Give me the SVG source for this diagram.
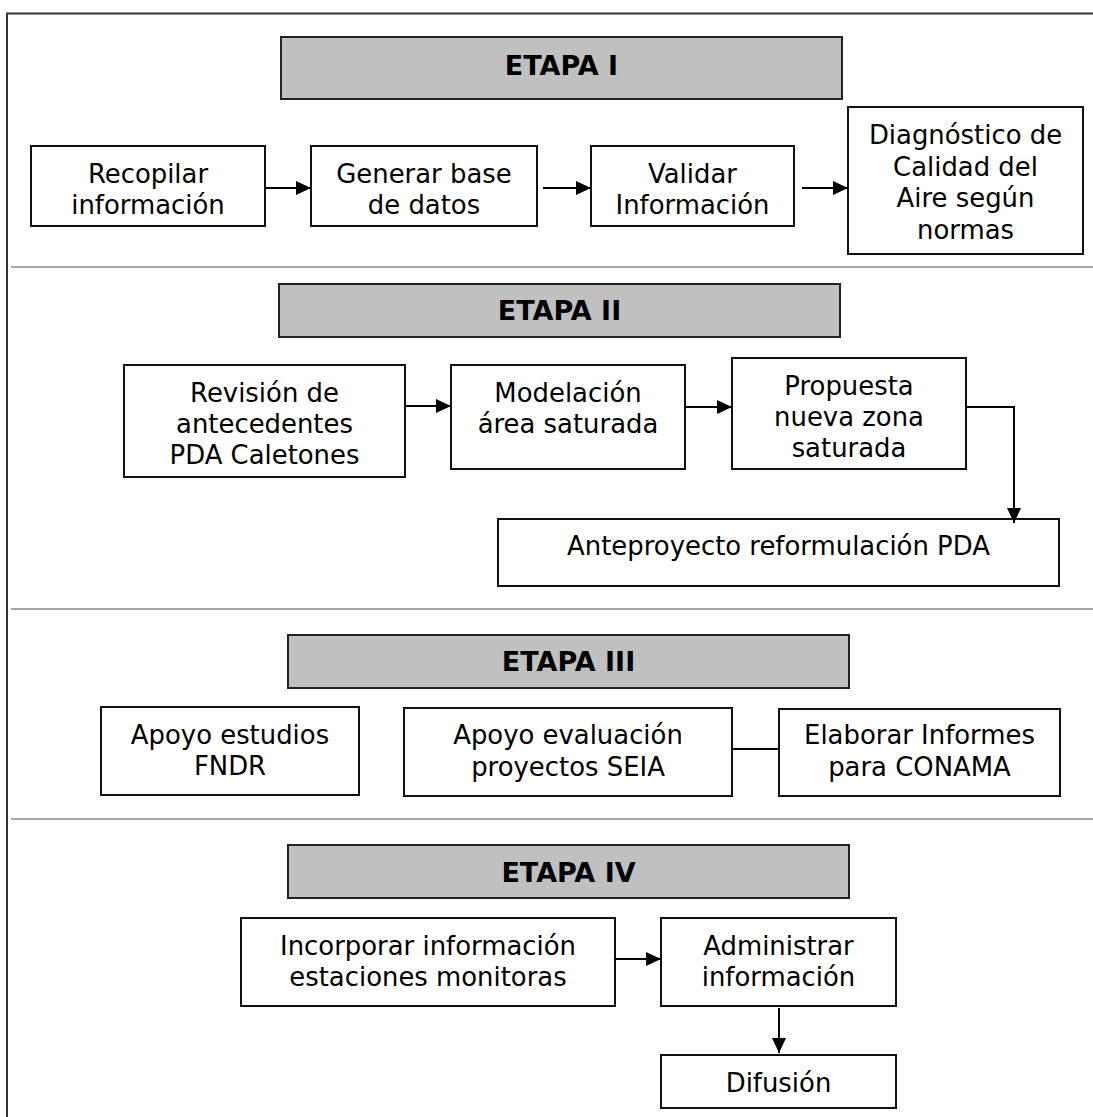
<svg xmlns="http://www.w3.org/2000/svg" width="1093" height="1117" viewBox="0 0 1093 1117">
<style>
.box{fill:#fff;stroke:#111;stroke-width:2}
.hdr{fill:#c0c0c0;stroke:#222;stroke-width:2}
.t{font-family:"DejaVu Sans",Verdana,sans-serif;font-size:25.9px;text-anchor:middle;fill:#000}
.h{font-weight:bold;font-size:27px}
.sep{stroke:#a6a6a6;stroke-width:2}
.frame{fill:none;stroke:#333;stroke-width:2}
.conn{fill:none;stroke:#000;stroke-width:2}
.arr{marker-end:url(#ah)}
</style>
<defs>
<marker id="ah" viewBox="0 0 15 14" refX="15" refY="7" markerUnits="userSpaceOnUse" markerWidth="15" markerHeight="14" orient="auto">
<path d="M0,0 L15,7 L0,14 z" fill="#000"/>
</marker>
</defs>
<rect x="0" y="0" width="1093" height="1117" fill="#fff"/>
<path class="frame" d="M7,1117 V13.5 H1093"/>
<g id="separators">
<line class="sep" x1="11" y1="267" x2="1093" y2="267"/>
<line class="sep" x1="11" y1="609" x2="1093" y2="609"/>
<line class="sep" x1="11" y1="819" x2="1093" y2="819"/>
</g>
<g id="etapa1"><rect class="hdr" x="281" y="37" width="561" height="62"/><text class="t h" x="561.5" y="75">ETAPA I</text></g>
<g id="recopilar"><rect class="box" x="31" y="146" width="234" height="80"/><text class="t" x="148" y="183">Recopilar</text><text class="t" x="148" y="214">información</text></g>
<g id="generar"><rect class="box" x="311" y="146" width="226" height="80"/><text class="t" x="424" y="183">Generar base</text><text class="t" x="424" y="214">de datos</text></g>
<g id="validar"><rect class="box" x="591" y="146" width="203" height="80"/><text class="t" x="692.5" y="183">Validar</text><text class="t" x="692.5" y="214">Información</text></g>
<g id="diagnostico"><rect class="box" x="848" y="107" width="235" height="147"/><text class="t" x="965.5" y="144">Diagnóstico de</text><text class="t" x="965.5" y="175.5">Calidad del</text><text class="t" x="965.5" y="207">Aire según</text><text class="t" x="965.5" y="238.5">normas</text></g>
<g id="etapa2"><rect class="hdr" x="279" y="284" width="561" height="53"/><text class="t h" x="559.5" y="320">ETAPA II</text></g>
<g id="revision"><rect class="box" x="124" y="365" width="281" height="112"/><text class="t" x="264.5" y="401.5">Revisión de</text><text class="t" x="264.5" y="432.5">antecedentes</text><text class="t" x="264.5" y="464">PDA Caletones</text></g>
<g id="modelacion"><rect class="box" x="451" y="365" width="234" height="104"/><text class="t" x="568" y="401.5">Modelación</text><text class="t" x="568" y="432.5">área saturada</text></g>
<g id="propuesta"><rect class="box" x="732" y="358" width="234" height="111"/><text class="t" x="849" y="395">Propuesta</text><text class="t" x="849" y="426">nueva zona</text><text class="t" x="849" y="457.3">saturada</text></g>
<g id="anteproyecto"><rect class="box" x="498" y="519" width="561" height="67"/><text class="t" x="778.5" y="555">Anteproyecto reformulación PDA</text></g>
<g id="etapa3"><rect class="hdr" x="288" y="635" width="561" height="53"/><text class="t h" x="568.5" y="671">ETAPA III</text></g>
<g id="fndr"><rect class="box" x="101" y="707" width="258" height="88"/><text class="t" x="230" y="744">Apoyo estudios</text><text class="t" x="230" y="775">FNDR</text></g>
<g id="seia"><rect class="box" x="404" y="708" width="328" height="88"/><text class="t" x="568" y="744">Apoyo evaluación</text><text class="t" x="568" y="775.5">proyectos SEIA</text></g>
<g id="conama"><rect class="box" x="779" y="709" width="281" height="87"/><text class="t" x="919.5" y="744">Elaborar Informes</text><text class="t" x="919.5" y="775.5">para CONAMA</text></g>
<g id="etapa4"><rect class="hdr" x="288" y="845" width="561" height="53"/><text class="t h" x="568.5" y="881.5">ETAPA IV</text></g>
<g id="incorporar"><rect class="box" x="241" y="918" width="374" height="88"/><text class="t" x="428" y="955">Incorporar información</text><text class="t" x="428" y="986">estaciones monitoras</text></g>
<g id="administrar"><rect class="box" x="661" y="918" width="235" height="88"/><text class="t" x="778.5" y="955">Administrar</text><text class="t" x="778.5" y="986">información</text></g>
<g id="difusion"><rect class="box" x="661" y="1055" width="235" height="53"/><text class="t" x="778.5" y="1091.5">Difusión</text></g>
<g id="connectors">
<line class="conn arr" x1="265" y1="188" x2="311" y2="188"/>
<line class="conn arr" x1="543" y1="188" x2="591" y2="188"/>
<line class="conn arr" x1="802" y1="188" x2="848" y2="188"/>
<line class="conn arr" x1="405" y1="406" x2="451" y2="406"/>
<line class="conn arr" x1="685" y1="407" x2="732" y2="407"/>
<path class="conn arr" d="M966,407 H1014 V523"/>
<line class="conn" x1="732" y1="749" x2="779" y2="749"/>
<line class="conn arr" x1="615" y1="959" x2="661" y2="959"/>
<line class="conn arr" x1="779" y1="1008" x2="779" y2="1053"/>
</g>
</svg>
